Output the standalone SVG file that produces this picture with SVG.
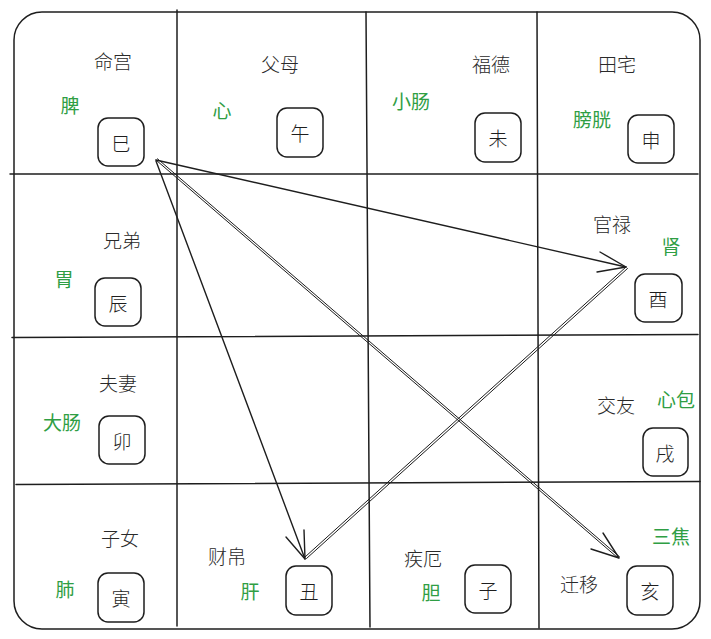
<svg xmlns="http://www.w3.org/2000/svg" width="711" height="639" viewBox="0 0 711 639">
<defs>
<style>
.grid{fill:none;stroke:#1e1e1e;stroke-width:1.5;stroke-linecap:round}
.box{fill:#fff;stroke:#1e1e1e;stroke-width:1.5}
.lbl{font-family:"Noto Sans CJK SC","Noto Sans",sans-serif;font-size:19px;font-weight:300;fill:#2a2a2a;text-anchor:middle;dominant-baseline:central}
.org{font-family:"Noto Sans CJK SC","Noto Sans",sans-serif;font-size:19px;font-weight:400;fill:#2f9e44;text-anchor:middle;dominant-baseline:central}
.bx{font-family:"Noto Sans CJK SC","Noto Sans",sans-serif;font-size:19px;font-weight:300;fill:#1e1e1e;text-anchor:middle;dominant-baseline:central}
.ln{fill:none;stroke:#1e1e1e;stroke-width:1.4;stroke-linecap:round;stroke-linejoin:round}
.thin{fill:none;stroke:#1e1e1e;stroke-width:1;stroke-linecap:round}
</style>
</defs>
<rect width="711" height="639" fill="#fff"/>
<g id="grid">
<rect class="grid" x="14" y="12" width="686" height="617" rx="28" stroke-width="2"/>
<line class="grid" x1="177" y1="10" x2="177" y2="626"/>
<line class="grid" x1="366" y1="12" x2="370" y2="627"/>
<line class="grid" x1="537" y1="12" x2="539" y2="628"/>
<line class="grid" x1="10" y1="174" x2="698" y2="174"/>
<line class="grid" x1="12" y1="337.5" x2="698" y2="334.5"/>
<line class="grid" x1="16" y1="484.5" x2="700" y2="481.5"/>
</g>
<g id="si"><text class="lbl" x="113" y="60">命宫</text><text class="org" x="70" y="104">脾</text><rect class="box" x="98" y="118" width="46" height="48" rx="10"/><text class="bx" x="121" y="142">巳</text></g>
<g id="wu"><text class="lbl" x="280" y="63">父母</text><text class="org" x="222" y="109">心</text><rect class="box" x="277" y="108" width="46" height="49" rx="10"/><text class="bx" x="300" y="132">午</text></g>
<g id="wei"><text class="lbl" x="491" y="63">福德</text><text class="org" x="411" y="100">小肠</text><rect class="box" x="475" y="113" width="46" height="49" rx="10"/><text class="bx" x="498" y="137">未</text></g>
<g id="shen"><text class="lbl" x="617" y="63">田宅</text><text class="org" x="592" y="118">膀胱</text><rect class="box" x="628" y="115" width="46" height="48" rx="10"/><text class="bx" x="651" y="139">申</text></g>
<g id="chen"><text class="lbl" x="122" y="239">兄弟</text><text class="org" x="64" y="278">胃</text><rect class="box" x="95" y="278" width="46" height="48" rx="10"/><text class="bx" x="118" y="302">辰</text></g>
<g id="you"><text class="lbl" x="612" y="223">官禄</text><text class="org" x="671" y="245">肾</text><rect class="box" x="635" y="274" width="47" height="48" rx="10"/><text class="bx" x="658" y="298">酉</text></g>
<g id="mao"><text class="lbl" x="118" y="382">夫妻</text><text class="org" x="62" y="421">大肠</text><rect class="box" x="99" y="416" width="46" height="48" rx="10"/><text class="bx" x="122" y="440">卯</text></g>
<g id="xu"><text class="lbl" x="616" y="404">交友</text><text class="org" x="676" y="398">心包</text><rect class="box" x="643" y="428" width="45" height="48" rx="10"/><text class="bx" x="665" y="452">戌</text></g>
<g id="yin"><text class="lbl" x="120" y="537">子女</text><text class="org" x="65" y="588">肺</text><rect class="box" x="98" y="573" width="46" height="49" rx="10"/><text class="bx" x="121" y="597">寅</text></g>
<g id="chou"><text class="lbl" x="227" y="555">财帛</text><text class="org" x="250" y="590">肝</text><rect class="box" x="286" y="566" width="46" height="49" rx="10"/><text class="bx" x="309" y="590">丑</text></g>
<g id="zi"><text class="lbl" x="423" y="557">疾厄</text><text class="org" x="431" y="591">胆</text><rect class="box" x="465" y="565" width="46" height="48" rx="10"/><text class="bx" x="488" y="589">子</text></g>
<g id="hai"><text class="lbl" x="579" y="583">迁移</text><text class="org" x="671" y="535">三焦</text><rect class="box" x="627" y="566" width="46" height="49" rx="10"/><text class="bx" x="650" y="590">亥</text></g>
<g id="connectors">
<path class="ln" d="M156 160 L626 267"/>
<path class="ln" d="M600 252 L626 267 L597 272"/>
<path class="ln" d="M156 161 L305 559"/>
<path class="ln" d="M286 537 L305 559 L304 530"/>
<path class="thin" d="M626 267 L305 557"/>
<path class="thin" d="M627.5 268.5 L306.5 558.5"/>
<path class="thin" d="M156 160 L618 558"/>
<path class="thin" d="M157.5 158.8 L619.5 556.8"/>
<path class="ln" d="M591 549 L619 558 L603 533"/>
</g>
</svg>
